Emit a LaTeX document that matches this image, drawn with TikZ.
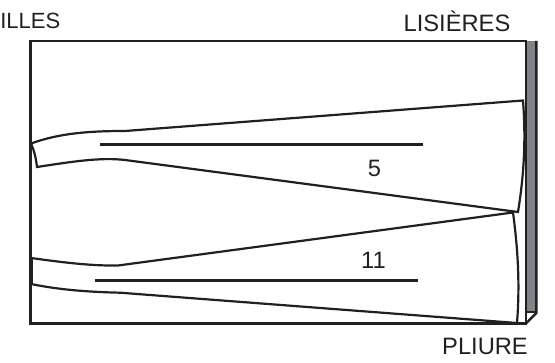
\documentclass[tikz,border=0pt]{standalone}
\usepackage{fontspec}
\setmainfont{Liberation Sans}
\definecolor{txt}{HTML}{231F20}
\definecolor{strip}{HTML}{808487}
\tikzset{
  frame/.style={draw=txt,line width=2.4pt,line join=miter},
  piece/.style={draw=txt,line width=2.2pt,line join=miter},
  grain/.style={draw=txt,line width=2.3pt},
  lbl/.style={font=\fontsize{23.7pt}{26pt}\selectfont,text=txt,inner sep=0pt}
}
\begin{document}
\begin{tikzpicture}[x=1pt,y=-1pt]
\useasboundingbox (0,0) rectangle (555,363);
% gray strip
\fill[strip] (526,41) rectangle (536.5,312);
\draw[frame] (536.3,41) -- (536.3,313) -- (526,323.5);
\draw[piece] (526,312) -- (536.3,312);
% frame
\draw[frame] (30.5,41) rectangle (526,323.5);
% top piece
\draw[piece] (31,143.5) .. controls (60,133) and (90,131) .. (125,131) -- (523,100.5)
  .. controls (526,140) and (524,175) .. (518,212) -- (125,160)
  .. controls (100,157) and (70,162) .. (37,167) .. controls (36,158) and (34,150) .. (31,143.5) -- cycle;
% lower piece
\draw[piece] (31,258) .. controls (60,262) and (90,266) .. (118,265.5) -- (513,212.5)
  .. controls (518,250) and (520,285) .. (517,323);
\draw[piece] (31,284) .. controls (60,290) and (90,292) .. (120,292.7) -- (517,323);
\fill[txt] (30.5,257) rectangle (33,284);
% grain lines
\draw[grain] (100,144.5) -- (423,144.5);
\draw[grain] (95,280.6) -- (418,280.6);
% labels
\node[lbl,anchor=base] (five) at (374.5,177) {5};
\node[lbl,anchor=base] (eleven) at (373.5,269) {11};
\node[lbl,anchor=base east,font=\fontsize{22pt}{26pt}\selectfont] (illes) at (60.5,28.5) {ILLES};
\node[lbl,anchor=base] (lisieres) at (457,31.5) {LISIÈRES};
\node[lbl,anchor=base] (pliure) at (485,355) {PLIURE};
\end{tikzpicture}
\end{document}
